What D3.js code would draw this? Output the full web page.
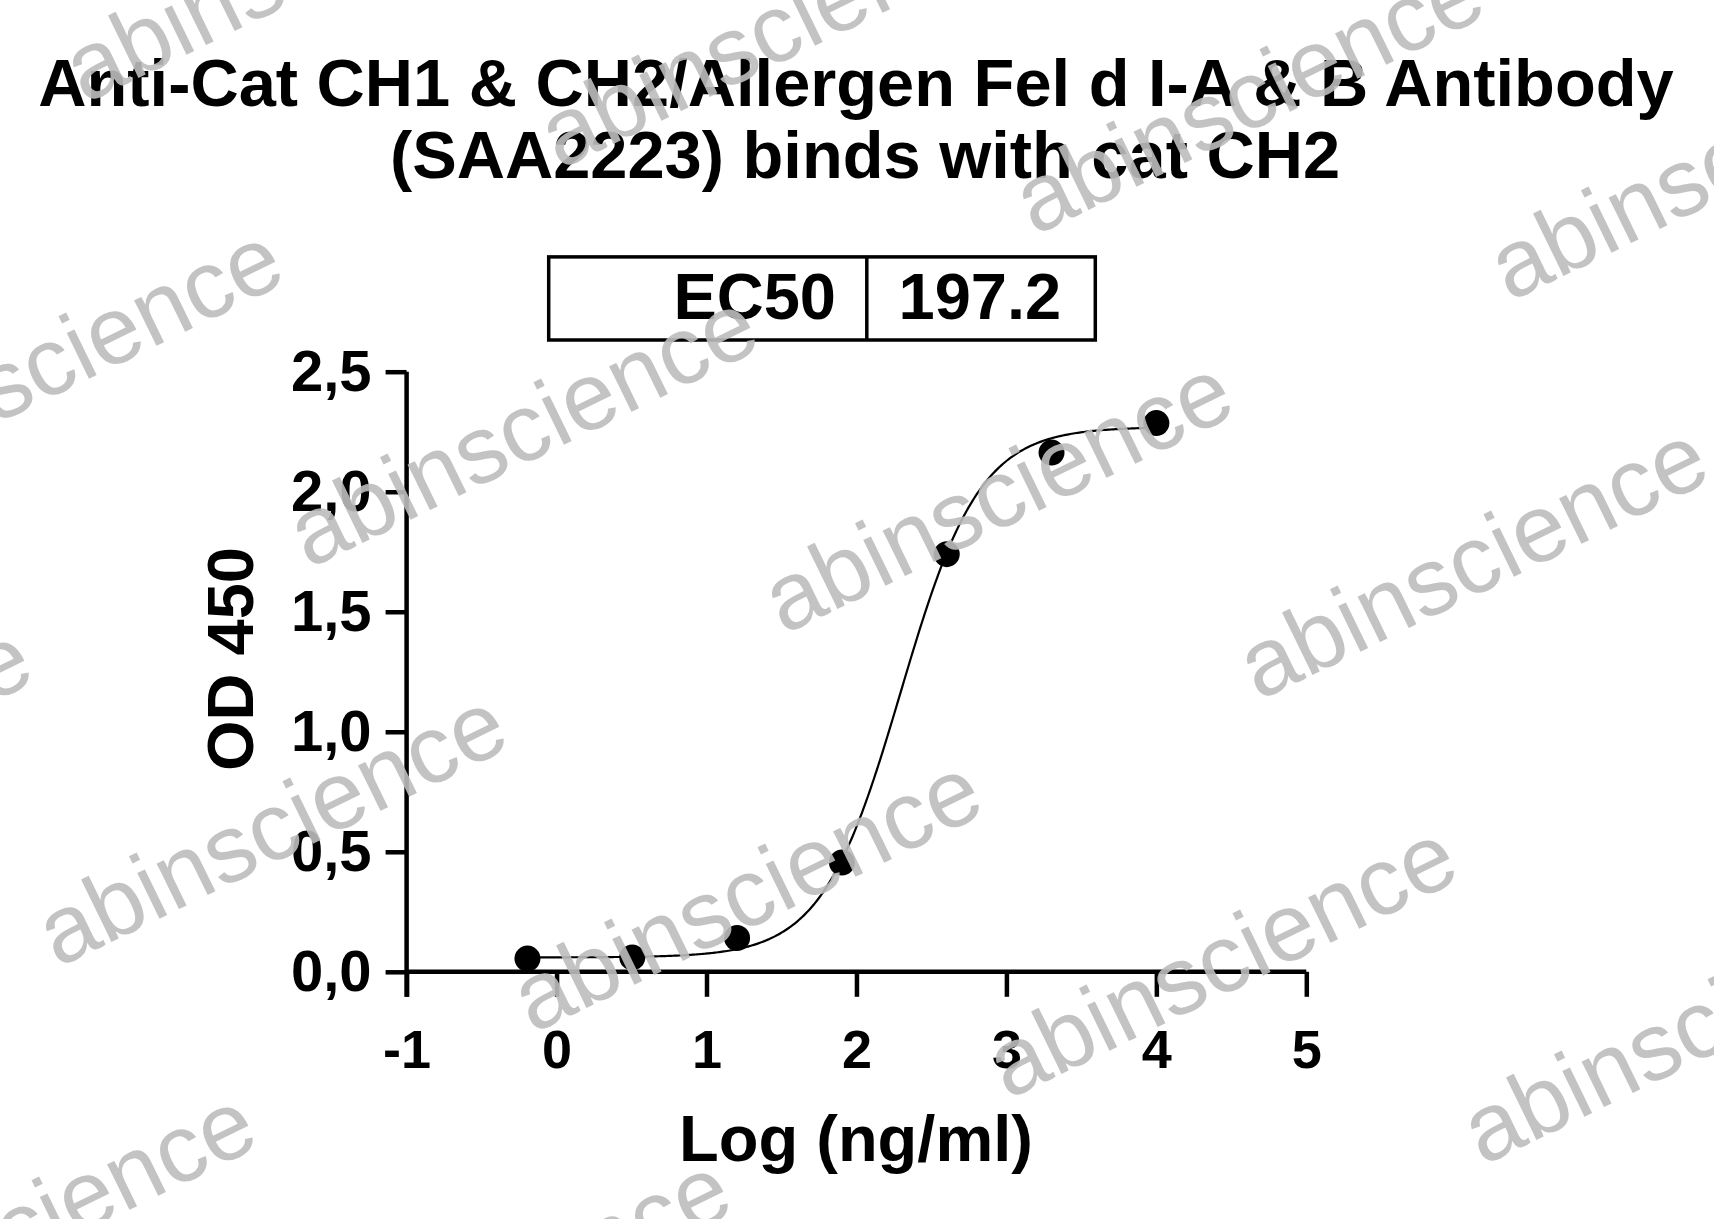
<!DOCTYPE html>
<html>
<head>
<meta charset="utf-8">
<script src="https://cdn.jsdelivr.net/npm/d3@7"></script>
<style>
  html, body { margin: 0; padding: 0; background: #fff; }
  svg { display: block; }
  text { font-family: "Liberation Sans", Arial, sans-serif; }
</style>
</head>
<body>
<svg id="chart" width="1714" height="1219"></svg>
<script>
// ---- data ----
const titleLines = ["Anti-Cat CH1 & CH2/Allergen Fel d I-A & B Antibody", "(SAA2223) binds with cat CH2"];
const logConc = [-0.194, 0.505, 1.204, 1.903, 2.602, 3.301, 4.0];
const od450 = [0.055, 0.06, 0.141, 0.455, 1.74, 2.163, 2.286];
const xTicks = [-1, 0, 1, 2, 3, 4, 5];
const yTicks = [0, 0.5, 1.0, 1.5, 2.0, 2.5];
const ec50Label = "EC50";
const ec50Value = "197.2";
// 4PL fit parameters (EC50 = 197.2 ng/ml)
const fitBottom = 0.06;
const fitTop = 2.27;
const fitLogEC50 = Math.log10(197.2);
const fitHill = 1.65;
const xLabel = "Log (ng/ml)";
const yLabel = "OD 450";
const watermark = "abinscience";

// ---- layout ----
const W = 1714, H = 1219;
const svg = d3.select("#chart");
const x = d3.scaleLinear().domain([-1, 5]).range([406.6, 1306.3]);
const y = d3.scaleLinear().domain([0, 2.5]).range([971.8, 371.7]);

svg.append("rect").attr("width", W).attr("height", H).attr("fill", "#fff");

// title
const titleX = [856, 865];
svg.append("g").selectAll("text").data(titleLines).join("text")
  .attr("x", (d, i) => titleX[i]).attr("y", (d, i) => 106 + i * 72)
  .attr("text-anchor", "middle")
  .attr("font-size", 66.8).attr("font-weight", "bold").attr("fill", "#000")
  .text(d => d);

// EC50 box
const box = svg.append("g");
box.append("rect").attr("x", 548.7).attr("y", 256.9).attr("width", 546.6).attr("height", 83.1)
  .attr("fill", "none").attr("stroke", "#000").attr("stroke-width", 3.5);
box.append("line").attr("x1", 866.8).attr("x2", 866.8).attr("y1", 256.9).attr("y2", 340)
  .attr("stroke", "#000").attr("stroke-width", 3.5);
box.append("text").attr("x", 836).attr("y", 319).attr("text-anchor", "end")
  .attr("font-size", 65).attr("font-weight", "bold").text(ec50Label);
box.append("text").attr("x", 898.5).attr("y", 319).attr("text-anchor", "start")
  .attr("font-size", 65).attr("font-weight", "bold").text(ec50Value);

// axes
const fmtY = d => d3.format(".1f")(d).replace(".", ",");
const fmtX = d => String(d);
const yAxis = svg.append("g").attr("transform", `translate(${x(-1)},0)`)
  .call(d3.axisLeft(y).tickValues(yTicks).tickFormat(fmtY).tickSize(21).tickSizeOuter(0).tickPadding(14));
const xAxis = svg.append("g").attr("transform", `translate(0,${y(0)})`)
  .call(d3.axisBottom(x).tickValues(xTicks).tickFormat(fmtX).tickSize(25).tickSizeOuter(0).tickPadding(10));

[yAxis, xAxis].forEach(g => {
  g.select(".domain").attr("stroke", "#000").attr("stroke-width", 4.5);
  g.selectAll(".tick line").attr("stroke", "#000").attr("stroke-width", 4.5);
  g.selectAll(".tick text").attr("fill", "#000").attr("font-weight", "bold")
    .attr("font-family", '"Liberation Sans", Arial, sans-serif');
});
yAxis.selectAll(".tick text").attr("font-size", 58);
xAxis.selectAll(".tick text").attr("font-size", 54).attr("dy", null).attr("y", 96);
// extend domains to meet at the corner
yAxis.select(".domain").attr("d", `M0,${y(2.5)}V${y(0) + 25}`);
xAxis.select(".domain").attr("d", `M${x(-1)},0H${x(5)}`);

// axis labels
svg.append("text").attr("x", 856).attr("y", 1161).attr("text-anchor", "middle")
  .attr("font-size", 65).attr("font-weight", "bold").text(xLabel);
svg.append("text").attr("transform", "translate(253,659) rotate(-90)").attr("text-anchor", "middle")
  .attr("font-size", 65).attr("font-weight", "bold").text(yLabel);

// fitted curve
const fit = v => fitBottom + (fitTop - fitBottom) / (1 + Math.pow(10, (fitLogEC50 - v) * fitHill));
const xs = d3.range(d3.min(logConc), d3.max(logConc) + 1e-9, 0.01);
svg.append("path").datum(xs)
  .attr("d", d3.line().x(v => x(v)).y(v => y(fit(v))))
  .attr("fill", "none").attr("stroke", "#000").attr("stroke-width", 2.2);

// points
svg.append("g").selectAll("circle").data(logConc).join("circle")
  .attr("cx", d => x(d)).attr("cy", (d, i) => y(od450[i])).attr("r", 13).attr("fill", "#000");

// watermarks (lattice)
const wmG = svg.append("g").attr("fill", "#bdbdbd").attr("fill-opacity", 0.9);
const u = [475, 66], v = [-251, 399], o = [522, 428];
for (let i = -2; i <= 3; i++) {
  for (let j = -1; j <= 3; j++) {
    const cx = o[0] + i * u[0] + j * v[0];
    const cy = o[1] + i * u[1] + j * v[1];
    if (cx < -400 || cx > W + 400 || cy < -300 || cy > H + 300) continue;
    wmG.append("text").attr("transform", `translate(${cx},${cy}) rotate(-26)`)
      .attr("text-anchor", "middle").attr("dominant-baseline", "central")
      .attr("font-size", 96).text(watermark);
  }
}
</script>
</body>
</html>
